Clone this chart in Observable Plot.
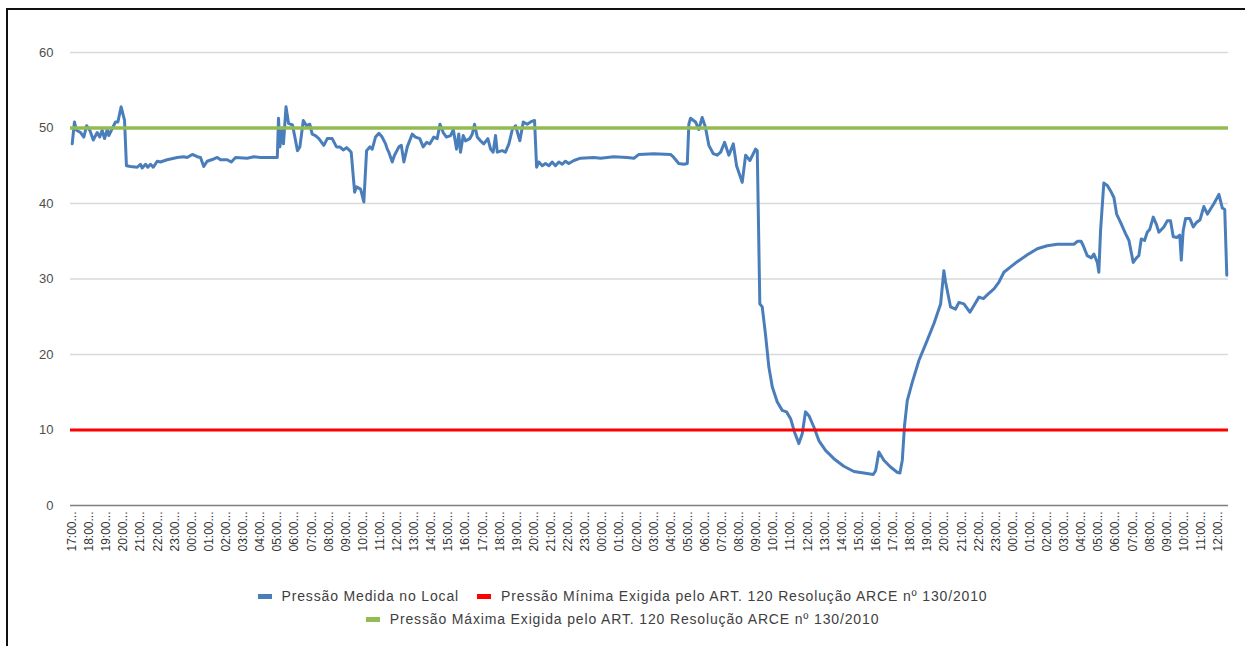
<!DOCTYPE html>
<html>
<head>
<meta charset="utf-8">
<script src="https://cdn.jsdelivr.net/npm/d3@7"></script>
<script src="https://cdn.jsdelivr.net/npm/@observablehq/plot@0.6"></script>
<style>
  html, body { margin: 0; padding: 0; background: #fff; }
  body { width: 1245px; height: 646px; position: relative; overflow: hidden; font-family: "Liberation Sans", Arial, sans-serif; }
  #frame { position: absolute; left: 6px; top: 8px; width: 1260px; height: 660px; border: 2px solid #111; box-sizing: border-box; }
  #chart { position: absolute; left: 0; top: 0; }
  .legend-row { position: absolute; left: 0; width: 1245px; display: flex; justify-content: center; align-items: center; font-size: 14px; letter-spacing: 0.85px; color: #404040; white-space: nowrap; }
  .item { display: flex; align-items: center; }
  .sw { width: 14px; height: 5px; margin-right: 10px; }
</style>
</head>
<body>
<div id="frame"></div>
<div id="chart"></div>
<div class="legend-row" id="row1" style="top:588px"></div>
<div class="legend-row" id="row2" style="top:611px"></div>
<script>
// Category tick labels (hourly), 17:00 day 1 ... 12:00 day 4
const rotulos = [
  "17:00","18:00","19:00","20:00","21:00","22:00","23:00",
  "00:00","01:00","02:00","03:00","04:00","05:00","06:00","07:00","08:00","09:00","10:00","11:00",
  "12:00","13:00","14:00","15:00","16:00","17:00","18:00","19:00","20:00","21:00","22:00","23:00",
  "00:00","01:00","02:00","03:00","04:00","05:00","06:00","07:00","08:00","09:00","10:00","11:00",
  "12:00","13:00","14:00","15:00","16:00","17:00","18:00","19:00","20:00","21:00","22:00","23:00",
  "00:00","01:00","02:00","03:00","04:00","05:00","06:00","07:00","08:00","09:00","10:00","11:00","12:00"
];

// Time of each reading, in hours after the first 17:00 label
const horas = [
  0.00,0.13,0.25,0.49,0.68,0.84,1.03,1.23,1.46,1.61,1.75,1.89,2.05,2.14,2.40,2.53,2.67,2.86,3.06,3.17,
  3.41,3.80,3.99,4.09,4.29,4.42,4.58,4.74,4.97,5.16,5.55,6.14,6.52,6.72,7.02,7.31,7.50,7.69,7.89,8.28,
  8.48,8.67,9.06,9.30,9.55,10.23,10.62,11.01,11.99,12.06,12.14,12.28,12.35,12.50,12.65,12.88,13.17,13.31,13.51,13.70,
  13.89,14.03,14.22,14.42,14.71,14.91,15.20,15.45,15.65,15.84,16.04,16.23,16.31,16.51,16.62,16.86,17.05,17.21,17.40,17.54,
  17.73,17.93,18.12,18.32,18.42,18.51,18.71,18.84,19.10,19.24,19.39,19.59,19.88,20.07,20.32,20.52,20.72,20.91,21.14,21.34,
  21.50,21.69,21.88,22.12,22.28,22.47,22.60,22.70,22.86,22.99,23.25,23.39,23.52,23.68,23.87,24.06,24.30,24.46,24.61,24.75,
  24.85,25.14,25.33,25.53,25.73,25.92,26.17,26.37,26.60,26.80,27.03,27.15,27.28,27.48,27.67,27.87,28.06,28.25,28.45,28.65,
  28.84,29.03,29.33,29.72,30.50,30.89,31.66,32.45,32.84,33.13,34.00,34.98,35.17,35.46,35.76,35.96,36.05,36.15,36.44,36.63,
  36.83,37.02,37.22,37.48,37.71,37.91,38.14,38.39,38.65,38.84,39.17,39.37,39.62,39.95,40.05,40.20,40.34,40.53,40.73,40.93,
  41.22,41.51,41.76,42.00,42.23,42.48,42.68,42.87,43.07,43.36,43.65,44.04,44.53,45.11,45.70,46.28,46.83,46.97,47.16,47.45,
  47.84,48.23,48.39,48.53,48.66,48.82,49.11,49.50,49.99,50.38,50.77,50.96,51.06,51.35,51.64,51.84,52.13,52.48,52.72,53.01,
  53.27,53.54,53.89,54.18,54.47,54.86,55.25,55.84,56.42,57.00,57.59,58.56,58.78,58.98,59.11,59.34,59.58,59.73,59.93,60.02,
  60.12,60.31,60.51,60.70,60.90,61.06,61.29,61.58,61.78,62.03,62.22,62.36,62.50,62.69,62.85,63.00,63.20,63.39,63.53,63.82,
  64.02,64.21,64.37,64.60,64.75,64.84,64.95,65.09,65.34,65.54,65.73,65.93,66.16,66.37,66.75,67.04,67.24,67.38,67.50
];

// Pressão Medida no Local (mca)
const pressao = [
  47.9,50.8,49.7,49.4,48.8,50.3,49.7,48.4,49.4,48.8,49.7,48.6,49.8,49.0,50.2,50.8,50.8,52.8,51.0,45.0,
  44.9,44.8,45.2,44.7,45.2,44.8,45.2,44.8,45.6,45.5,45.8,46.1,46.2,46.1,46.5,46.2,46.1,44.9,45.6,45.9,
  46.1,45.8,45.8,45.5,46.1,46.0,46.2,46.1,46.1,51.3,47.5,50.0,47.9,52.8,50.6,50.4,47.0,47.5,51.0,50.3,
  50.5,49.2,49.0,48.6,47.7,48.6,48.6,47.5,47.5,47.1,47.4,47.0,46.8,41.5,42.2,41.9,40.2,47.0,47.5,47.2,
  48.8,49.3,48.8,47.9,47.2,46.8,45.5,46.4,47.5,47.7,45.5,47.5,49.2,48.8,48.6,47.5,48.1,47.9,48.8,48.6,
  50.5,49.4,48.8,49.0,49.8,47.2,49.2,46.8,49.0,48.3,48.6,49.2,50.5,48.8,48.3,47.9,48.6,47.2,46.8,49.0,
  46.8,47.0,46.8,47.9,49.8,50.3,48.3,50.8,50.5,50.8,51.0,44.8,45.5,45.0,45.3,45.0,45.5,45.0,45.5,45.2,
  45.6,45.3,45.7,46.0,46.1,46.0,46.2,46.1,46.0,46.5,46.6,46.5,46.1,45.3,45.2,45.3,50.5,51.3,50.8,49.8,
  51.4,50.1,47.7,46.6,46.4,46.8,48.1,46.4,47.9,45.0,42.8,46.4,45.7,47.2,47.0,26.7,26.3,22.7,18.3,15.7,
  13.7,12.6,12.4,11.5,9.7,8.2,9.5,12.4,11.9,10.4,8.6,7.3,6.2,5.2,4.5,4.3,4.1,4.6,7.1,6.0,
  5.1,4.4,4.3,6.0,10.6,13.9,16.3,19.2,21.9,24.1,26.7,31.1,29.6,26.3,26.0,26.9,26.7,25.6,26.5,27.6,
  27.4,28.0,28.7,29.6,30.9,31.6,32.3,33.2,34.0,34.4,34.6,34.6,35.0,35.0,34.4,33.1,32.8,33.3,32.2,30.9,
  36.4,42.7,42.4,41.7,40.8,38.6,37.5,36.0,35.1,32.2,32.8,33.1,35.3,35.1,36.2,36.6,38.2,37.2,36.2,36.9,
  37.7,37.7,35.6,35.5,35.8,32.5,36.4,38.0,38.0,36.9,37.5,37.8,39.6,38.6,40.0,41.2,39.4,39.2,30.5
];

// Reference limits (ARCE Resolução nº 130/2010, Art. 120)
const pressaoMinima = [10];
const pressaoMaxima = [50];
const yTicks = [0, 10, 20, 30, 40, 50, 60];

const series = [
  { nome: "Pressão Medida no Local", cor: "#4a7ebb" },
  { nome: "Pressão Mínima Exigida pelo ART. 120 Resolução ARCE nº 130/2010", cor: "#ff0000" },
  { nome: "Pressão Máxima Exigida pelo ART. 120 Resolução ARCE nº 130/2010", cor: "#92bb52" }
];

const dados = horas.map((h, i) => ({ h, p: pressao[i] }));

const chart = Plot.plot({
  width: 1245,
  height: 560,
  marginLeft: 70,
  marginRight: 17,
  marginTop: 52,
  marginBottom: 55,
  style: { fontFamily: "Liberation Sans, Arial, sans-serif", background: "transparent", color: "#4d4d4d" },
  x: { domain: [-0.1, 67.6] },
  y: { domain: [0, 60] },
  marks: [
    Plot.ruleY(yTicks.filter(d => d > 0), { stroke: "#d9d9d9", strokeWidth: 1.3 }),
    Plot.ruleY([0], { stroke: "#7f7f7f", strokeWidth: 1.6 }),
    Plot.axisY({ ticks: yTicks, tickSize: 0, tickPadding: 17, fontSize: 13, label: null }),
    Plot.axisX({
      ticks: rotulos.map((_, i) => i),
      tickFormat: i => rotulos[i] + "...",
      tickRotate: -90,
      tickSize: 0,
      tickPadding: 6,
      fontSize: 12,
      fill: "#333",
      label: null
    }),
    Plot.line(dados, { x: "h", y: "p", stroke: series[0].cor, strokeWidth: 3, curve: "linear" }),
    Plot.ruleY(pressaoMinima, { stroke: series[1].cor, strokeWidth: 3 }),
    Plot.ruleY(pressaoMaxima, { stroke: series[2].cor, strokeWidth: 3.5 })
  ]
});
document.getElementById("chart").appendChild(chart);

function item(s) {
  const d = document.createElement("div");
  d.className = "item";
  const sw = document.createElement("span");
  sw.className = "sw";
  sw.style.background = s.cor;
  const t = document.createElement("span");
  t.textContent = s.nome;
  d.appendChild(sw); d.appendChild(t);
  return d;
}
const r1 = document.getElementById("row1");
const a = item(series[0]); a.style.marginRight = "18px";
r1.appendChild(a); r1.appendChild(item(series[1]));
document.getElementById("row2").appendChild(item(series[2]));
</script>
</body>
</html>
